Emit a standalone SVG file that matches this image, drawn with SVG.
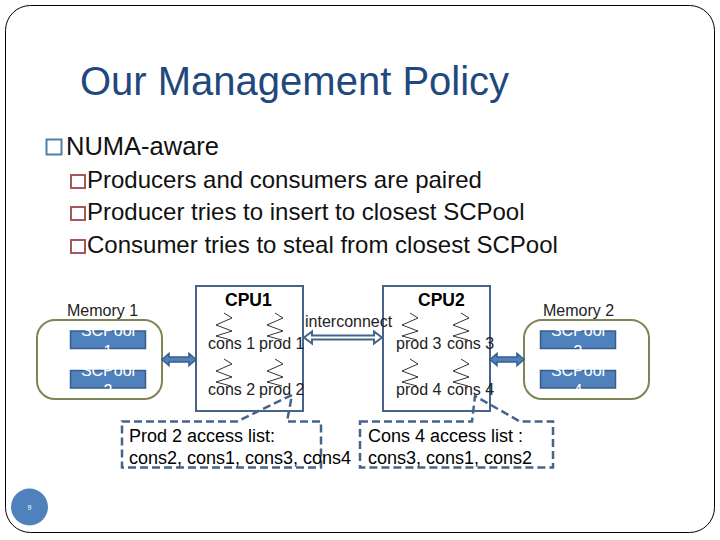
<svg xmlns="http://www.w3.org/2000/svg" width="720" height="540" viewBox="0 0 720 540">
<style>
text{font-family:"Liberation Sans",Arial,sans-serif;fill:#000}
.title{font-size:40px;fill:#1f497d}
.l1{font-size:25.500px;fill:#111}
.l2{font-size:24px;fill:#111}
.lab{font-size:16px;fill:#222}
.cpuT{font-size:17.500px;font-weight:bold}
.call{font-size:18px}
.pool{font-size:16px;fill:#fff;text-anchor:middle}
.b1{fill:none;stroke:#4f81a8;stroke-width:2}
.b2{fill:none;stroke:#a5585a;stroke-width:2}
.cpu{fill:#fff;stroke:#46638a;stroke-width:2}
.mem{fill:#fff;stroke:#7f8457;stroke-width:2}
.poolr{fill:#4f81bd;stroke:#385d8a;stroke-width:1.5}
.sq{fill:none;stroke:#000;stroke-width:.8}
.dash{fill:none;stroke:#46638a;stroke-width:2.500;stroke-dasharray:8 4}
.blk{fill:#4f81bd;stroke:#385d8a;stroke-width:1.500}
.hol{fill:#fff;stroke:#46638a;stroke-width:2}
</style>
<defs>
<polyline id="sq" class="sq" points="8,0 16,5 0,12 16,18 0,23 15,27"/>
</defs>
<rect width="720" height="540" fill="#fff"/>
<rect x="5.500" y="5.500" width="709" height="527" rx="25" fill="none" stroke="#000" stroke-width="1"/>
<g id="title"><text class="title" x="80" y="95">Our Management Policy</text></g>
<g id="bullets">
<rect class="b1" x="46.500" y="139.500" width="15" height="15"/>
<text class="l1" x="66" y="155">NUMA-aware</text>
<rect class="b2" x="71" y="175" width="14" height="13"/>
<text class="l2" x="87" y="188">Producers and consumers are paired</text>
<rect class="b2" x="71" y="207" width="14" height="13"/>
<text class="l2" x="87" y="220">Producer tries to insert to closest SCPool</text>
<rect class="b2" x="71" y="240" width="14" height="13"/>
<text class="l2" x="87" y="253">Consumer tries to steal from closest SCPool</text>
</g>
<g id="cpu1">
<rect class="cpu" x="196" y="286" width="107" height="125"/>
<text class="cpuT" x="225" y="306">CPU1</text>
<use href="#sq" x="216" y="313"/><use href="#sq" x="267" y="313"/>
<use href="#sq" x="216" y="359"/><use href="#sq" x="267" y="359"/>
<text class="lab" x="208" y="349">cons 1</text><text class="lab" x="259" y="349">prod 1</text>
<text class="lab" x="208" y="395">cons 2</text><text class="lab" x="259" y="395">prod 2</text>
</g>
<g id="cpu2">
<rect class="cpu" x="383" y="286" width="107" height="125"/>
<text class="cpuT" x="418" y="306">CPU2</text>
<use href="#sq" x="402" y="313"/><use href="#sq" x="453" y="313"/>
<use href="#sq" x="402" y="359"/><use href="#sq" x="453" y="359"/>
<text class="lab" x="396" y="349">prod 3</text><text class="lab" x="447" y="349">cons 3</text>
<text class="lab" x="396" y="395">prod 4</text><text class="lab" x="447" y="395">cons 4</text>
</g>
<g id="memory1">
<text class="lab" x="67" y="316">Memory 1</text>
<rect class="mem" x="37" y="320" width="125" height="79" rx="18"/>
<rect class="poolr" x="70.500" y="331" width="75" height="17.500"/>
<text class="pool" x="108" y="336">SCPool</text><text class="pool" x="108" y="356.500">1</text>
<rect class="poolr" x="70.500" y="370.500" width="75" height="17.500"/>
<text class="pool" x="108" y="375.500">SCPool</text><text class="pool" x="108" y="396">2</text>
</g>
<g id="memory2">
<text class="lab" x="543" y="316">Memory 2</text>
<rect class="mem" x="524" y="320" width="125" height="79" rx="18"/>
<rect class="poolr" x="540.500" y="331" width="75" height="17.500"/>
<text class="pool" x="578" y="336">SCPool</text><text class="pool" x="578" y="356.500">3</text>
<rect class="poolr" x="540.500" y="370.500" width="75" height="17.500"/>
<text class="pool" x="578" y="375.500">SCPool</text><text class="pool" x="578" y="396">4</text>
</g>
<g id="connectors">
<path class="blk" d="M162 359.500l7-6v3.500h20v-3.500l7 6-7 6v-3.500h-20v3.500z"/>
<path class="blk" d="M490 359.500l7-6v3.500h20v-3.500l7 6-7 6v-3.500h-20v3.500z"/>
<path class="hol" d="M304 337.500l8-6v4h62v-4l8 6-8 6v-4h-62v4z"/>
</g>
<text class="lab" x="305" y="327">interconnect</text>
<g id="prod2-list">
<path class="dash" d="M122 421.500H237L292 395L287 421.500H321V467.500H122Z"/>
<text class="call" x="129" y="442">Prod 2 access list:</text>
<text class="call" x="129" y="464">cons2, cons1, cons3, cons4</text>
</g>
<g id="cons4-list">
<path class="dash" d="M360 421.500H472L475 396L520 421.500H553V467.500H360Z"/>
<text class="call" x="368" y="442">Cons 4 access list :</text>
<text class="call" x="368" y="464">cons3, cons1, cons2</text>
</g>
<g id="page">
<circle cx="29.500" cy="507" r="18.500" fill="#4f81bd"/>
<text x="29.500" y="510" font-size="7" text-anchor="middle" style="fill:#fff">9</text>
</g>
</svg>
